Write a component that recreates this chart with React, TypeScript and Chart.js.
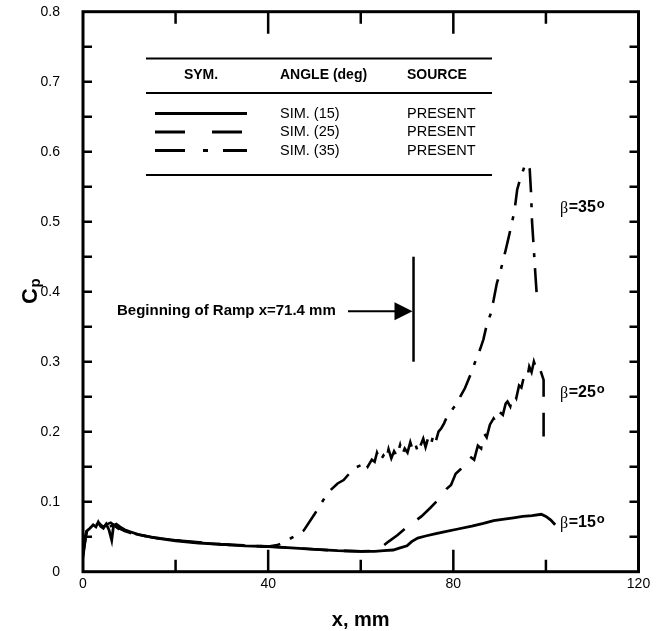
import React, { useEffect, useRef } from "react";
import { Chart, registerables } from "chart.js";

Chart.register(...registerables);

// ---- data ----
const x15 = [0, 0.3, 0.8, 1.5, 2.2, 2.8, 3.3, 3.8, 4.4, 5, 5.6, 6.2, 6.6, 7.2, 8, 9, 10.2, 12, 15.9, 20, 25, 30, 35, 40, 45, 50, 55, 60, 63, 65, 67, 68.5, 70, 71, 72.3, 74, 76, 78, 81, 84, 86.5, 88.7, 91, 93, 95, 97, 99, 100, 101, 102];
const cp15 = [0.03, 0.045, 0.058, 0.062, 0.067, 0.064, 0.071, 0.065, 0.062, 0.068, 0.06, 0.045, 0.066, 0.068, 0.064, 0.06, 0.057, 0.053, 0.048, 0.044, 0.041, 0.039, 0.037, 0.036, 0.034, 0.032, 0.03, 0.029, 0.029, 0.03, 0.031, 0.034, 0.037, 0.043, 0.048, 0.051, 0.054, 0.057, 0.061, 0.065, 0.069, 0.073, 0.075, 0.077, 0.079, 0.08, 0.082, 0.079, 0.074, 0.067];

const x25 = [0, 0.8, 2.2, 3.3, 4.4, 5.2, 6, 6.8, 7.5, 8.5, 10, 15, 20, 30, 40, 50, 55, 60, 63, 64.5, 66, 67.9, 70, 71.5, 73.1, 75, 77.2, 78.5, 79.5, 80.5, 81.5, 82.5, 83.5, 84.5, 85.3, 86, 86.5, 87.2, 87.9, 88.7, 89.4, 90, 90.7, 91.3, 91.7, 92.3, 93, 93.6, 94.2, 94.7, 95.3, 95.9, 96.4, 96.9, 97.4, 98, 98.5, 99, 99.5, 99.5];
const cp25 = [0.02, 0.06, 0.066, 0.07, 0.064, 0.068, 0.07, 0.066, 0.062, 0.058, 0.056, 0.049, 0.045, 0.039, 0.036, 0.032, 0.03, 0.029, 0.03, 0.035, 0.043, 0.052, 0.064, 0.071, 0.079, 0.091, 0.106, 0.118, 0.124, 0.14, 0.146, 0.152, 0.165, 0.16, 0.18, 0.176, 0.199, 0.192, 0.21, 0.219, 0.212, 0.228, 0.224, 0.24, 0.243, 0.236, 0.255, 0.248, 0.266, 0.263, 0.28, 0.274, 0.293, 0.285, 0.3, 0.288, 0.294, 0.284, 0.274, 0.193];

const x35 = [0, 0.8, 2.2, 3.3, 4.4, 5.5, 6.5, 7.5, 9, 11, 15, 20, 25, 30, 35, 40, 42, 43.3, 45.5, 47.7, 50, 52.9, 55, 56.3, 57.5, 58.9, 60, 60.8, 61.5, 62.4, 63, 63.5, 64.2, 64.9, 65.5, 66, 66.6, 67.2, 67.8, 68.5, 69, 69.5, 70.1, 70.7, 71.2, 71.8, 72.4, 72.9, 73.5, 74, 74.6, 75.2, 75.7, 76.2, 76.8, 77.4, 78, 78.6, 79.3, 80, 80.8, 81.5, 82.5, 83.5, 84.3, 85.1, 85.8, 86.5, 87.3, 88, 88.7, 89.4, 90, 90.7, 91.4, 92, 92.6, 93.2, 93.8, 94.4, 95, 95.6, 96.1, 96.5, 96.8, 97.0, 97.3, 97.7, 98.1];
const cp35 = [0.025, 0.058, 0.065, 0.069, 0.066, 0.063, 0.067, 0.063, 0.058, 0.054, 0.049, 0.045, 0.041, 0.039, 0.037, 0.036, 0.038, 0.042, 0.05, 0.059, 0.082, 0.113, 0.126, 0.131, 0.14, 0.149, 0.152, 0.158, 0.15, 0.16, 0.157, 0.17, 0.158, 0.166, 0.16, 0.175, 0.162, 0.172, 0.165, 0.181, 0.168, 0.176, 0.17, 0.185, 0.174, 0.182, 0.17, 0.18, 0.19, 0.178, 0.192, 0.183, 0.195, 0.186, 0.2, 0.205, 0.212, 0.221, 0.226, 0.234, 0.24, 0.25, 0.262, 0.278, 0.292, 0.307, 0.318, 0.332, 0.355, 0.367, 0.388, 0.412, 0.425, 0.443, 0.462, 0.479, 0.497, 0.515, 0.546, 0.56, 0.572, 0.583, 0.582, 0.575, 0.54, 0.5, 0.47, 0.427, 0.388];

const xTickLabels = ["0", "40", "80", "120"];
const yTickLabels = ["0", "0.1", "0.2", "0.3", "0.4", "0.5", "0.6", "0.7", "0.8"];
const xMinorTicks = [20, 40, 60, 80, 100];
const xLongTicks = [40, 80];

const legendHeaders = ["SYM.", "ANGLE (deg)", "SOURCE"];
const legendAngles = ["SIM. (15)", "SIM. (25)", "SIM. (35)"];
const legendSources = ["PRESENT", "PRESENT", "PRESENT"];
const betaLabels = ["β=35", "β=25", "β=15"];
const rampText = "Beginning of Ramp x=71.4 mm";
const rampX = 71.4;
const rampY0 = 0.3;
const rampY1 = 0.45;
const rampArrowY = 0.372;

const dash25 = [26, 16];
const dash35 = [24, 11, 4, 11];

const toPts = (xs: number[], ys: number[]) => xs.map((x, i) => ({ x, y: ys[i] }));

const SANS = "'Liberation Sans', Arial, sans-serif";

const decorPlugin = {
  id: "decor",
  afterDraw(chart: any) {
    const ctx = chart.ctx as CanvasRenderingContext2D;
    const xs = chart.scales.x;
    const ys = chart.scales.y;
    const { left, right, top, bottom } = chart.chartArea;
    ctx.save();
    ctx.strokeStyle = "#000";
    ctx.fillStyle = "#000";
    ctx.setLineDash([]);
    // frame
    ctx.lineWidth = 3;
    ctx.strokeRect(left, top, right - left, bottom - top);
    // y ticks (inward both sides)
    ctx.lineWidth = 2.5;
    for (let i = 1; i < 16; i++) {
      const py = ys.getPixelForValue(i * 0.05);
      ctx.beginPath();
      ctx.moveTo(left, py);
      ctx.lineTo(left + 9, py);
      ctx.moveTo(right, py);
      ctx.lineTo(right - 9, py);
      ctx.stroke();
    }
    // x ticks (inward, top and bottom)
    xMinorTicks.forEach((v) => {
      const px = xs.getPixelForValue(v);
      const len = xLongTicks.includes(v) ? 22 : 12;
      ctx.beginPath();
      ctx.moveTo(px, bottom);
      ctx.lineTo(px, bottom - len);
      ctx.moveTo(px, top);
      ctx.lineTo(px, top + len);
      ctx.stroke();
    });

    // legend table
    ctx.lineWidth = 2;
    [58.5, 93, 175].forEach((yy) => {
      ctx.beginPath();
      ctx.moveTo(146, yy);
      ctx.lineTo(492, yy);
      ctx.stroke();
    });
    ctx.textBaseline = "middle";
    ctx.font = `bold 14px ${SANS}`;
    ctx.textAlign = "center";
    ctx.fillText(legendHeaders[0], 201, 75.5);
    ctx.textAlign = "left";
    ctx.fillText(legendHeaders[1], 280, 75.5);
    ctx.fillText(legendHeaders[2], 407, 75.5);
    ctx.font = `14.5px ${SANS}`;
    const rowY = [113.5, 132, 150.5];
    const rowDash = [[], [30, 27], [30, 18, 5, 15]];
    rowY.forEach((yy, i) => {
      ctx.fillText(legendAngles[i], 280, yy);
      ctx.fillText(legendSources[i], 407, yy);
      ctx.lineWidth = 3;
      ctx.setLineDash(rowDash[i]);
      ctx.beginPath();
      ctx.moveTo(155, yy);
      ctx.lineTo(247, yy);
      ctx.stroke();
    });
    ctx.setLineDash([]);

    // ramp annotation
    const rx = xs.getPixelForValue(rampX);
    const ay = ys.getPixelForValue(rampArrowY);
    ctx.lineWidth = 2.5;
    ctx.beginPath();
    ctx.moveTo(rx, ys.getPixelForValue(rampY1));
    ctx.lineTo(rx, ys.getPixelForValue(rampY0));
    ctx.stroke();
    ctx.lineWidth = 2;
    ctx.beginPath();
    ctx.moveTo(348, ay);
    ctx.lineTo(rx - 16, ay);
    ctx.stroke();
    ctx.beginPath();
    ctx.moveTo(rx - 1, ay);
    ctx.lineTo(rx - 19, ay - 9);
    ctx.lineTo(rx - 19, ay + 9);
    ctx.closePath();
    ctx.fill();
    ctx.font = `bold 15px ${SANS}`;
    ctx.textAlign = "left";
    ctx.textBaseline = "middle";
    ctx.fillText(rampText, 117, ay);

    // beta labels
    const betaY = [208, 393, 523];
    betaLabels.forEach((t, i) => {
      const yy = betaY[i];
      ctx.textBaseline = "middle";
      ctx.font = `16px 'Liberation Serif', serif`;
      ctx.fillText(t[0], 560, yy + 1);
      const bw = ctx.measureText(t[0]).width;
      ctx.font = `bold 16px ${SANS}`;
      ctx.fillText(t.slice(1), 560 + bw + 0.5, yy);
      const tw = ctx.measureText(t.slice(1)).width;
      ctx.font = `bold 13px ${SANS}`;
      ctx.fillText("o", 560 + bw + tw + 1.5, yy - 4);
    });

    // axis titles
    ctx.font = `bold 20px ${SANS}`;
    ctx.textAlign = "center";
    ctx.textBaseline = "alphabetic";
    ctx.fillText("x, mm", (left + right) / 2, 626);

    ctx.save();
    ctx.translate(37, 304);
    ctx.rotate(-Math.PI / 2);
    ctx.textAlign = "left";
    ctx.font = `bold 22px ${SANS}`;
    ctx.fillText("C", 0, 0);
    const cw = ctx.measureText("C").width;
    ctx.font = `bold 15px ${SANS}`;
    ctx.fillText("p", cw + 0.5, 3);
    ctx.restore();

    ctx.restore();
  },
};

export default function App() {
  const ref = useRef<HTMLCanvasElement | null>(null);
  useEffect(() => {
    if (!ref.current) return;
    const common = {
      borderColor: "#000",
      pointRadius: 0,
      tension: 0,
      fill: false,
    };
    const chart = new Chart(ref.current, {
      type: "line",
      data: {
        datasets: [
          { ...common, label: "SIM. (15)", data: toPts(x15, cp15), borderWidth: 2.8 },
          { ...common, label: "SIM. (25)", data: toPts(x25, cp25), borderWidth: 2.6, borderDash: dash25 },
          { ...common, label: "SIM. (35)", data: toPts(x35, cp35), borderWidth: 2.6, borderDash: dash35 },
        ],
      },
      options: {
        animation: false,
        responsive: false,
        devicePixelRatio: 1,
        layout: { padding: { top: 11.7, right: 22.5, left: 0, bottom: 0 } },
        plugins: { legend: { display: false }, tooltip: { enabled: false }, title: { display: false } },
        scales: {
          x: {
            type: "linear",
            min: 0,
            max: 120,
            grid: { display: false },
            border: { display: false },
            ticks: {
              stepSize: 40,
              padding: -4,
              color: "#000",
              font: { family: SANS, size: 14 },
              maxRotation: 0,
              callback: (v: any) => xTickLabels[Math.round(Number(v) / 40)] ?? "",
            },
            afterFit: (s: any) => {
              s.height = 631 - 571.7;
              s.paddingLeft = 0;
              s.paddingRight = 0;
            },
          },
          y: {
            type: "linear",
            min: 0,
            max: 0.8,
            grid: { display: false },
            border: { display: false },
            ticks: {
              stepSize: 0.1,
              padding: 15,
              color: "#000",
              font: { family: SANS, size: 14 },
              callback: (v: any) => yTickLabels[Math.round(Number(v) * 10)] ?? "",
            },
            afterFit: (s: any) => {
              s.width = 83;
              s.paddingTop = 0;
              s.paddingBottom = 0;
            },
          },
        },
      },
      plugins: [decorPlugin],
    } as any);
    return () => chart.destroy();
  }, []);
  return (
    <div style={{ position: "absolute", left: 0, top: 0, width: 661, height: 631, background: "#fff" }}>
      <canvas ref={ref} width={661} height={631} style={{ display: "block" }} />
    </div>
  );
}
